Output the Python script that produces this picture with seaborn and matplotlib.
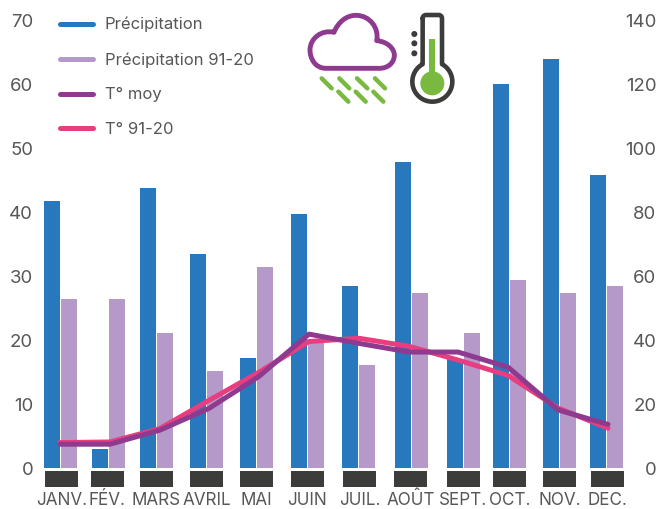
import matplotlib
matplotlib.use("Agg")
import matplotlib.pyplot as plt
from matplotlib.legend_handler import HandlerLine2D
from matplotlib.lines import Line2D
from matplotlib.patches import Circle, PathPatch
from matplotlib.path import Path
import numpy as np
import pandas as pd
import seaborn as sns

months = ["JANV.", "FÉV.", "MARS", "AVRIL", "MAI", "JUIN", "JUIL.", "AOÛT", "SEPT.", "OCT.", "NOV.", "DEC."]
precip = [41.7, 3.0, 43.8, 33.4, 17.2, 39.7, 28.4, 47.8, 17.0, 60.0, 64.0, 45.8]
precip_normal = [26.4, 26.4, 21.2, 15.2, 31.4, 20.0, 16.2, 27.3, 21.2, 29.4, 27.3, 28.4]
temp_mean = [7.5, 7.5, 11.9, 18.7, 28.7, 41.9, 39.0, 36.3, 36.3, 31.6, 18.2, 13.7]
temp_normal = [8.0, 8.2, 12.4, 21.2, 30.0, 39.6, 40.6, 38.1, 33.8, 29.0, 18.8, 12.5]

left_ticks = [0, 10, 20, 30, 40, 50, 60, 70]
right_ticks = [0, 20, 40, 60, 80, 100, 120, 140]

# Horizontal layout, in pixels: bars and plates follow their own uneven spacing,
# the temperature lines an even one
month_x = [60.5, 108.5, 156.5, 206.5, 256.5, 307.5, 358.5, 411.5, 463.5, 509.5, 559.5, 606.5]
plate_x = [61.5, 107.5, 156.5, 206.5, 256.5, 307.5, 359.5, 410.5, 463.5, 509.5, 559.5, 607.5]
line_x = [60, 110, 160, 209, 259, 309, 359, 409, 458, 508, 558, 608]
W, H = 657, 509
AX_L, AX_R, AX_T, AX_B = 36, 628, 10, 490
Y0, PX_PER_UNIT = 468.2, 6.4

BLUE, LILAC, PURPLE, PINK = "#2878BE", "#B499C9", "#8E3A8F", "#E83E7F"
TEXT, DARK, GREEN = "#575756", "#3C3C3B", "#7AB93F"

sns.set_theme(style="white")
plt.rcParams["font.family"] = ["Inter", "DejaVu Sans"]

fig = plt.figure(figsize=(W / 100, H / 100), dpi=100, facecolor="white")
ax = fig.add_axes([AX_L / W, 1 - AX_B / H, (AX_R - AX_L) / W, (AX_B - AX_T) / H])

bars = pd.DataFrame({
    "x": month_x * 2,
    "value": precip + precip_normal,
    "series": ["Précipitation"] * 12 + ["Précipitation 91-20"] * 12,
})
sns.barplot(data=bars, x="x", y="value", hue="series", native_scale=True,
            palette=[BLUE, LILAC], width=34 / 46, gap=0.06, saturation=1,
            legend=False, ax=ax, errorbar=None, linewidth=0)

# Dark plates under each month
ax.bar(plate_x, [-2.5] * 12, bottom=-0.42, width=33, color=DARK, linewidth=0)

ax.set_xlim(AX_L, AX_R)
ax.set_ylim((Y0 - AX_B) / PX_PER_UNIT, (Y0 - AX_T) / PX_PER_UNIT)
ax.set_xticks(plate_x, months, va="baseline")
ax.set_yticks(left_ticks)
ax.set_xlabel("")
ax.set_ylabel("")
ax.tick_params(axis="x", length=0, pad=11, labelsize=12.3, labelcolor=TEXT)
ax.tick_params(axis="y", length=0, pad=2, labelsize=13.4, labelcolor=TEXT)
sns.despine(ax=ax, left=True, right=True, top=True, bottom=True)

# Temperatures use the right-hand scale, twice the left one
ax2 = ax.twinx()
line_kw = dict(linewidth=3.6, solid_capstyle="round", solid_joinstyle="round", legend=False)
sns.lineplot(x=line_x, y=temp_normal, color=PINK, ax=ax2, **line_kw)
sns.lineplot(x=line_x, y=temp_mean, color=PURPLE, ax=ax2, **line_kw)
ymin, ymax = ax.get_ylim()
ax2.set_ylim(ymin * 2, ymax * 2)
ax2.set_yticks(right_ticks)
ax2.set_ylabel("")
ax2.grid(False)
ax2.tick_params(axis="y", length=0, pad=20.4, labelsize=13.4, labelcolor=TEXT)
for label in ax2.get_yticklabels():
    label.set_horizontalalignment("right")
sns.despine(ax=ax2, left=True, right=True, top=True, bottom=True)

# Overlay in pixel coordinates for the legend and the two pictograms
ov = fig.add_axes([0, 0, 1, 1], facecolor="none")
ov.set_xlim(0, W)
ov.set_ylim(H, 0)
ov.axis("off")

handles = [
    Line2D([], [], color=c, lw=3.6, solid_capstyle="round")
    for c in (BLUE, LILAC, PURPLE, PINK)
]
ov.legend(handles, ["Précipitation", "Précipitation 91-20", "T° moy", "T° 91-20"],
          loc="upper left", bbox_to_anchor=(60 / W, 1 - 17 / H), frameon=False,
          fontsize=12, labelcolor=TEXT, handlelength=2.0, handletextpad=0.68,
          labelspacing=1.18, borderpad=0, borderaxespad=0,
          handler_map={Line2D: HandlerLine2D(ypad=0.36)})


def z(px, py):
    """Pixel position of a point on the pictogram grid (three grid units per pixel)."""
    return 290 + px / 3, py / 3


# Cloud outline
C3 = Path.CURVE4
cloud = [
    (Path.MOVETO, (108, 205)),
    (C3, (75, 205)), (C3, (60, 175)), (C3, (60, 150)),
    (C3, (60, 115)), (C3, (95, 88)), (C3, (132, 97)),
    (C3, (145, 65)), (C3, (170, 46)), (C3, (198, 46)),
    (C3, (240, 46)), (C3, (268, 85)), (C3, (260, 122)),
    (C3, (295, 125)), (C3, (313, 148)), (C3, (313, 165)),
    (C3, (313, 190)), (C3, (292, 205)), (C3, (268, 205)),
    (Path.CLOSEPOLY, (108, 205)),
]
codes = [c for c, _ in cloud]
verts = [z(*p) for _, p in cloud]
ov.add_patch(PathPatch(Path(verts, codes), fill=False, ec=PURPLE, lw=3.5, joinstyle="round"))

# Rain strokes
rain = [((95, 235), (125, 265)), ((148, 235), (178, 265)), ((201, 235), (232, 265)),
        ((255, 235), (285, 265)), ((145, 275), (175, 305)), ((197, 275), (227, 305)),
        ((250, 275), (280, 305))]
for a, b in rain:
    (x0, y0), (x1, y1) = z(*a), z(*b)
    ov.plot([x0, x1], [y0, y1], color=GREEN, lw=3.2, solid_capstyle="round")

# Thermometer body: tube with rounded shoulders, closed by the bulb
cx, cy, r, dx = 427, 245, 60, 29
corner = np.radians(np.linspace(180, 90, 8))
left_corner = [(cx - dx + 10 + 10 * np.cos(t), 55 - 10 * np.sin(t)) for t in corner]
right_corner = [(cx + dx - 10 - 10 * np.cos(t), 55 - 10 * np.sin(t)) for t in corner[::-1]]
ang = np.radians(np.linspace(61, -241, 80))
bulb = [(cx + r * np.cos(t), cy - r * np.sin(t)) for t in ang]
outline = left_corner + right_corner + bulb + left_corner[:1]
ov.plot(*zip(*[z(*p) for p in outline]), color=DARK, lw=3.3, solid_joinstyle="round")

# Mercury and graduation dots
ov.plot(*zip(z(427, 118), z(427, 230)), color=GREEN, lw=4.4, solid_capstyle="butt")
ov.add_patch(Circle(z(427, 250), 12, color=GREEN, lw=0))
for dy in (102, 130, 160):
    ov.add_patch(Circle(z(373, dy), 3, color=DARK, lw=0))

fig.savefig("out.png", dpi=100, facecolor="white")
